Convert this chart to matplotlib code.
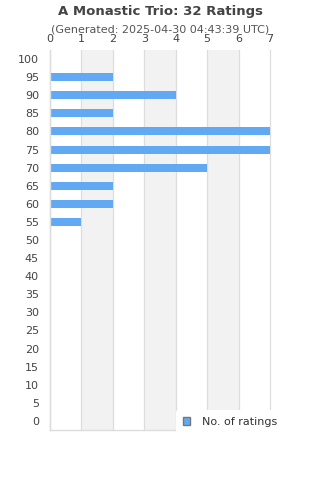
import matplotlib
matplotlib.use("Agg")
import matplotlib.pyplot as plt
from matplotlib.patches import Patch

ratings = list(range(0, 101, 5))
counts = [0, 0, 0, 0, 0, 0, 0, 0, 0, 0, 0, 1, 2, 2, 5, 7, 7, 2, 4, 2, 0]
xticks = list(range(0, 8))
title = "A Monastic Trio: 32 Ratings"
subtitle = "(Generated: 2025-04-30 04:43:39 UTC)"
bar_color = "#62a9f4"

fig = plt.figure(figsize=(3.2, 4.8), dpi=100)
ax = fig.add_axes([50/320, 1-430/480, 220/320, 380/480])

for x0 in (1, 3, 5):
    ax.axvspan(x0, x0 + 1, color="#f2f2f2", zorder=0, lw=0)
for x in xticks:
    ax.axvline(x, color="#dddddd", lw=0.9, zorder=1, clip_on=False)

ax.barh(ratings, counts, height=2.2, color=bar_color, zorder=2)
ax.set_xlim(0, 7)
ax.set_ylim(-2.5, 102.5)
ax.set_yticks(ratings)
ax.set_yticklabels([str(r) for r in ratings])
ax.set_xticks(xticks)
ax.xaxis.tick_top()
ax.tick_params(axis="both", length=0, labelsize=8, colors="#444444")
ax.tick_params(axis="x", pad=4.6)
ax.tick_params(axis="y", pad=8)
for s in ("top", "right"):
    ax.spines[s].set_visible(False)
for s in ("left", "bottom"):
    ax.spines[s].set_color("#dddddd")
    ax.spines[s].set_linewidth(1)

leg = fig.legend(handles=[Patch(facecolor=bar_color, edgecolor="#777777", label="No. of ratings")],
                 loc="center left", bbox_to_anchor=(176/320, 1-422/480), frameon=True, fontsize=8,
                 handlelength=0.7, handleheight=0.7, handletextpad=1.0,
                 borderpad=0.6, borderaxespad=0.0)
leg.get_frame().set_edgecolor("none")
leg.get_frame().set_facecolor("white")
leg.get_frame().set_alpha(1)
leg.set_zorder(5)
for t in leg.get_texts():
    t.set_color("#333333")

fig.text(0.5, 1-11/480, title, ha="center", va="center", fontsize=9.5, fontweight="bold", color="#444444")
fig.text(0.5, 1-30/480, subtitle, ha="center", va="center", fontsize=8, color="#555555")

fig.savefig("out.png", dpi=100)
